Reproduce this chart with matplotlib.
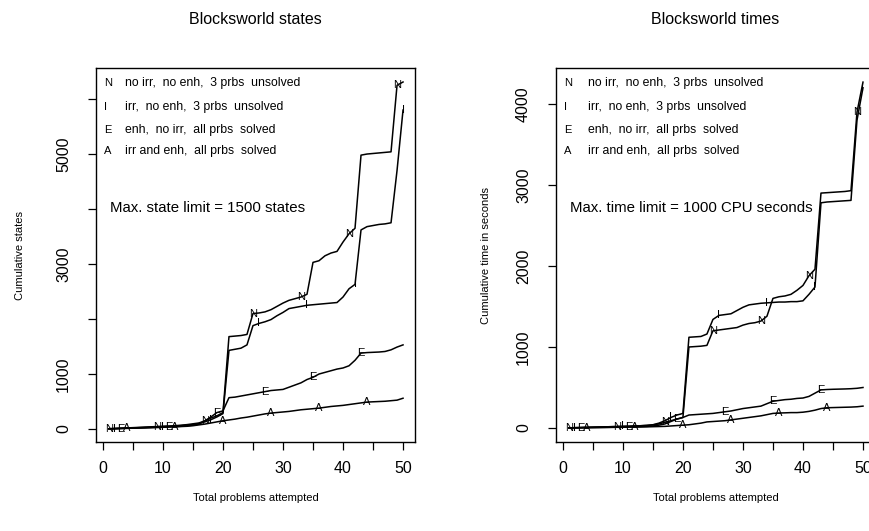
import numpy as np
import matplotlib
matplotlib.use("Agg")
import matplotlib.pyplot as plt

plt.rcParams['font.family'] = ['Liberation Sans', 'DejaVu Sans']

problems = np.arange(1, 51)

# cumulative states (left panel)
states_N = [5, 10, 15, 20, 25, 30, 35, 40, 45, 50, 55, 60, 70, 80, 95, 110, 150, 200, 240, 300,
            1680, 1690, 1700, 1720, 2100, 2110, 2130, 2170, 2230, 2290, 2340, 2370, 2400, 2450, 3030,
            3060, 3150, 3200, 3230, 3400, 3550, 3650, 4980, 5000, 5010, 5020, 5030, 5040, 6250, 6310]
states_I = [5, 8, 12, 16, 20, 25, 30, 35, 40, 45, 50, 55, 60, 70, 80, 100, 130, 170, 220, 280,
            1430, 1450, 1470, 1530, 1880, 1920, 1950, 1990, 2060, 2120, 2190, 2210, 2230, 2250, 2260,
            2270, 2280, 2290, 2300, 2400, 2550, 2630, 3620, 3680, 3700, 3720, 3730, 3750, 4700, 5800]
states_E = [3, 6, 9, 12, 15, 18, 21, 25, 30, 35, 40, 45, 50, 60, 70, 90, 150, 220, 300, 330,
            570, 580, 600, 620, 640, 660, 680, 700, 710, 720, 760, 800, 840, 900, 940,
            1000, 1030, 1060, 1090, 1110, 1150, 1250, 1380, 1390, 1395, 1400, 1410, 1440, 1490, 1530]
states_A = [5, 8, 11, 14, 17, 20, 23, 26, 29, 32, 36, 40, 45, 50, 60, 75, 90, 110, 130, 150,
            165, 180, 200, 215, 235, 255, 275, 290, 300, 310, 320, 335, 350, 360, 370,
            380, 395, 410, 420, 430, 445, 460, 475, 490, 495, 500, 505, 515, 525, 560]

# cumulative CPU seconds (right panel)
times_N = [2, 4, 6, 8, 10, 12, 14, 16, 18, 20, 22, 25, 28, 32, 38, 50, 70, 90, 110, 130,
           1000, 1005, 1010, 1020, 1200, 1210, 1220, 1230, 1240, 1270, 1290, 1300, 1320, 1380, 1600,
           1620, 1630, 1650, 1700, 1760, 1880, 1960, 2900, 2905, 2910, 2915, 2920, 2930, 3900, 4270]
times_I = [2, 4, 6, 8, 10, 12, 14, 16, 18, 20, 22, 25, 28, 32, 40, 60, 90, 130, 160, 180,
           1120, 1125, 1130, 1160, 1340, 1390, 1400, 1410, 1450, 1490, 1520, 1530, 1540, 1545, 1550,
           1555, 1555, 1560, 1560, 1570, 1650, 1740, 2780, 2790, 2795, 2800, 2805, 2810, 3800, 4200]
times_E = [1, 2, 3, 4, 5, 6, 7, 8, 9, 10, 12, 14, 16, 20, 25, 35, 50, 80, 110, 130,
           160, 165, 170, 175, 180, 190, 200, 210, 225, 240, 250, 260, 270, 300, 330,
           340, 350, 355, 365, 370, 390, 430, 470, 475, 478, 480, 482, 485, 490, 500]
times_A = [1, 2, 3, 4, 5, 6, 7, 8, 9, 10, 11, 12, 13, 14, 16, 18, 20, 25, 30, 35,
           40, 50, 60, 75, 80, 85, 90, 100, 110, 120, 130, 140, 150, 165, 180,
           185, 187, 190, 190, 195, 205, 220, 240, 250, 252, 254, 256, 258, 262, 270]

letters = ['N', 'I', 'E', 'A']
legend_text = ['no irr,  no enh,  3 prbs  unsolved',
               'irr,  no enh,  3 prbs  unsolved',
               'enh,  no irr,  all prbs  solved',
               'irr and enh,  all prbs  solved']

x_ticks = np.arange(0, 51, 5)
x_labels = ['0', '', '10', '', '20', '', '30', '', '40', '', '50']
states_ticks = [0, 1000, 2000, 3000, 4000, 5000, 6000]
states_labels = ['0', '1000', '', '3000', '', '5000', '']
times_ticks = [0, 1000, 2000, 3000, 4000]
times_labels = ['0', '1000', '2000', '3000', '4000']

fig = plt.figure(figsize=(8.69, 5.31), dpi=100)
ax1 = fig.add_axes([0.1105, 0.1676, 0.3671, 0.7043])
ax2 = fig.add_axes([0.6398, 0.1676, 0.3671, 0.7043])


def draw_panel(ax, series, title, ylabel, ylabpad, yticks, ylabels, ylim, note, note_box, text_x):
    for k, ys in enumerate(series):
        ax.plot(problems, ys, color='black', lw=1.1)
        for p in range(k + 1, 51, 8):
            ax.text(p, ys[p - 1], letters[k], ha='center', va='center', fontsize=8)
    ax.set_xlim(-1.15, 52)
    ax.set_ylim(*ylim)
    ax.set_xticks(x_ticks)
    ax.set_xticklabels(x_labels, fontsize=11.5)
    ax.set_yticks(yticks)
    ax.set_yticklabels(ylabels, fontsize=11.5, rotation=90, va='center')
    ax.tick_params(direction='out', length=6, width=0.9)
    ax.tick_params(axis='x', pad=8)
    ax.tick_params(axis='y', pad=12)
    for s in ax.spines.values():
        s.set_linewidth(1.0)
    ax.set_title(title, fontsize=11.5, pad=32)
    ax.set_xlabel('Total problems attempted', fontsize=8, labelpad=12)
    ax.set_ylabel(ylabel, fontsize=8, labelpad=ylabpad)

    ys_leg = [0.96, 0.896, 0.834, 0.778]
    for k in range(4):
        ax.text(0.025, ys_leg[k], letters[k], transform=ax.transAxes, fontsize=8, va='center')
        ax.text(text_x, ys_leg[k], legend_text[k], transform=ax.transAxes, fontsize=8.8, va='center')
    bbox = dict(facecolor='white', edgecolor='none', pad=1) if note_box else None
    ax.text(0.044, 0.626, note, transform=ax.transAxes, fontsize=10.8, va='center',
            bbox=bbox, zorder=5)


draw_panel(ax1, [states_N, states_I, states_E, states_A], 'Blocksworld states',
           'Cumulative states', 22, states_ticks, states_labels, (-236, 6564),
           'Max. state limit = 1500 states', False, 0.09)
draw_panel(ax2, [times_N, times_I, times_E, times_A], 'Blocksworld times',
           'Cumulative time in seconds', 18, times_ticks, times_labels, (-173, 4444),
           'Max. time limit = 1000 CPU seconds', True, 0.10)

fig.savefig('out.png', dpi=100)
